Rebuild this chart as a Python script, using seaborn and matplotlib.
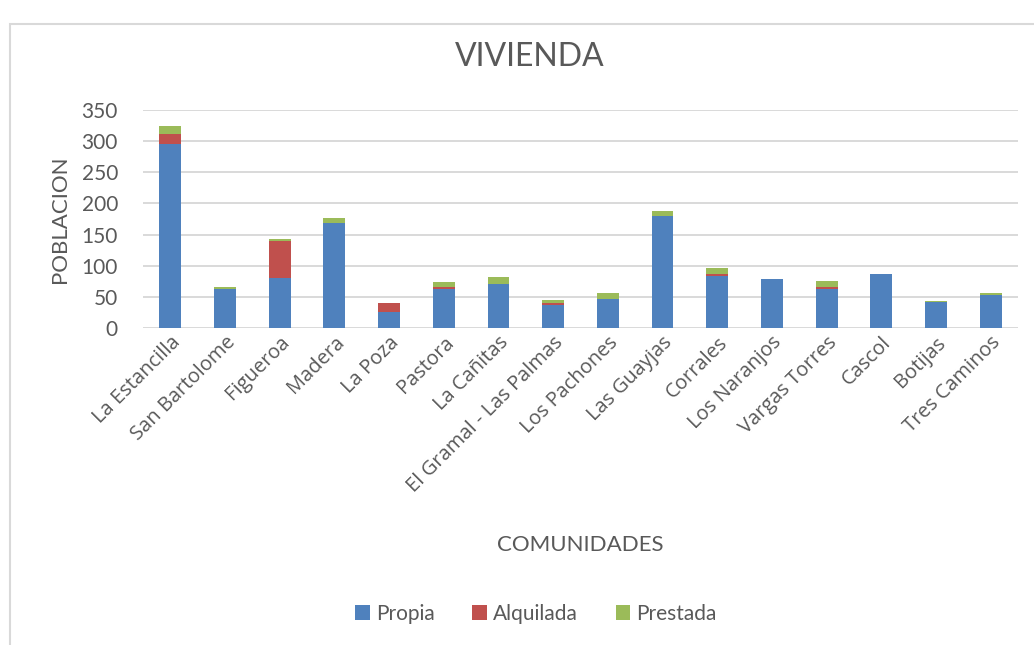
import matplotlib
matplotlib.use("Agg")
import matplotlib.pyplot as plt
from matplotlib.patches import Patch, Rectangle
import numpy as np
import pandas as pd
import seaborn as sns

comunidades = ["La Estancilla", "San Bartolome", "Figueroa", "Madera", "La Poza",
               "Pastora", "La Cañitas", "El Gramal - Las Palmas", "Los Pachones",
               "Las Guayjas", "Corrales", "Los Naranjos", "Vargas Torres", "Cascol",
               "Botijas", "Tres Caminos"]
propia = [295, 63, 80, 169, 26, 62, 70, 37, 47, 180, 84, 79, 63, 86, 41, 53]
alquilada = [17, 0, 60, 0, 13, 3, 1, 2, 0, 0, 2, 0, 2, 0, 1, 0]
prestada = [13, 2, 3, 8, 0, 9, 11, 5, 9, 8, 10, 0, 10, 0, 1, 3]
series_names = ["Propia", "Alquilada", "Prestada"]
y_ticks = [0, 50, 100, 150, 200, 250, 300, 350]

colors = ["#4F81BD", "#C0504D", "#9BBB59"]
text_color = "#595959"
grid_color = "#D9D9D9"

sns.set_theme(style="white")
plt.rcParams["font.family"] = ["Lato", "DejaVu Sans"]
label_font = ["Open Sans", "DejaVu Sans"]

df = pd.DataFrame({"comunidad": comunidades, "propia": propia,
                   "alquilada": alquilada, "prestada": prestada})
df["nivel1"] = df["propia"]
df["nivel2"] = df["propia"] + df["alquilada"]
df["nivel3"] = df["nivel2"] + df["prestada"]

fig = plt.figure(figsize=(10.34, 6.45), dpi=100)
ax = fig.add_axes([143 / 1034, 1 - 327.7 / 645, 875 / 1034, 217.4 / 645])

# stacked bars: cumulative totals drawn from the top layer down
for col, c in zip(["nivel3", "nivel2", "nivel1"], colors[::-1]):
    sns.barplot(data=df, x="comunidad", y=col, color=c, width=0.4,
                linewidth=0, saturation=1, ax=ax, zorder=3)

ax.set_xlim(-0.5, len(comunidades) - 0.5)
ax.set_ylim(0, 350)
ax.set_yticks(y_ticks)
ax.yaxis.grid(True, color=grid_color, linewidth=1.4, zorder=0)
ax.set_axisbelow(True)
for s in ax.spines.values():
    s.set_visible(False)
ax.tick_params(axis="both", length=0, colors=text_color, labelsize=15)
ax.tick_params(axis="y", pad=18)
ax.set_xticks(range(len(comunidades)))
ax.set_xticklabels(comunidades, rotation=45, ha="right", rotation_mode="anchor",
                   fontsize=14.5, color=text_color, family=label_font)
ax.set_xlabel("")
ax.set_ylabel("")

fig.text(60 / 1034, 1 - 219 / 645, "POBLACION", rotation=90, ha="center",
         va="center", fontsize=16, color=text_color)
fig.text(580 / 1034, 1 - 545 / 645, "COMUNIDADES", ha="center", va="center",
         fontsize=16, color=text_color)
fig.text(530 / 1034, 1 - 57 / 645, "VIVIENDA", ha="center", va="center",
         fontsize=23, color=text_color)

handles = [Patch(facecolor=c, edgecolor="none") for c in colors]
fig.legend(handles, series_names, loc="center", bbox_to_anchor=(536 / 1034, 1 - 614 / 645),
           ncol=3, frameon=False, fontsize=15, labelcolor=text_color,
           handlelength=0.7, handleheight=0.7, handletextpad=0.3, columnspacing=1.8)

# chart-area border
fig.patches.append(Rectangle((10 / 1034, -0.1), 1.2, 1 - 24 / 645 + 0.1,
                             transform=fig.transFigure, fill=False,
                             edgecolor=grid_color, linewidth=1.5))

fig.savefig("out.png", dpi=100, facecolor="white")
